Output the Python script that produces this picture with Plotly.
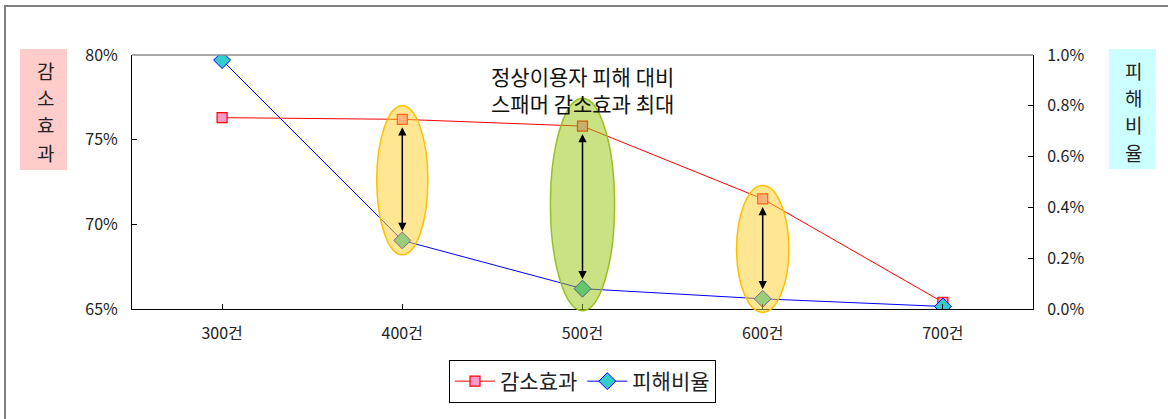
import plotly.graph_objects as go

categories = ["300건", "400건", "500건", "600건", "700건"]
reduction = [76.3, 76.2, 75.8, 71.5, 65.4]        # 감소효과 (%), left axis
damage = [0.98, 0.27, 0.08, 0.04, 0.01]           # 피해비율 (%), right axis

left_title = ["감", "소", "효", "과"]
right_title = ["피", "해", "비", "율"]

left_range = [65, 80]
right_range = [0, 1.0]

# highlighted categories: (index, half-width, top, bottom in left-axis units, kind)
highlights = [(1, 0.142, 77.0, 68.2, "y"), (2, 0.178, 77.45, 64.9, "g"), (3, 0.145, 72.3, 64.8, "y")]

FONT = "Noto Sans CJK KR, Noto Sans, DejaVu Sans, sans-serif"
PX_W, PX_H, L, T = 901, 254, 132, 55


def to_left(v):
    return left_range[0] + (v - right_range[0]) / (right_range[1] - right_range[0]) * (left_range[1] - left_range[0])


def to_paper(v):
    return (v - left_range[0]) / (left_range[1] - left_range[0])


def px_x(p):
    return (p - L) / PX_W


def px_y(p):
    return (T + PX_H - p) / PX_H


idx = list(range(len(categories)))

fig = go.Figure()
fig.add_trace(go.Scatter(
    x=idx, y=reduction, name="감소효과", mode="lines+markers",
    line=dict(color="#FF0000", width=1),
    marker=dict(symbol="square", size=10, color="#FF99CC", line=dict(color="#FF0000", width=1.2)),
    yaxis="y"))
fig.add_trace(go.Scatter(
    x=idx, y=damage, name="피해비율", mode="lines+markers",
    line=dict(color="#0000FF", width=1),
    marker=dict(symbol="diamond", size=13, color="#33CCCC", line=dict(color="#0000FF", width=1)),
    yaxis="y2"))

shapes = []
# outer frame
shapes.append(dict(type="rect", xref="paper", yref="paper", x0=px_x(5), x1=1.4,
                   y0=-1.0, y1=px_y(6), line=dict(color="#7F7F7F", width=2), layer="below"))
# plot top border
shapes.append(dict(type="line", xref="paper", yref="paper", x0=0, x1=1, y0=1, y1=1,
                   line=dict(color="#8C8C8C", width=1.5)))
# axis-title boxes
shapes.append(dict(type="rect", xref="paper", yref="paper", x0=px_x(20), x1=px_x(67),
                   y0=px_y(170), y1=px_y(49), fillcolor="#FFCCCC", line=dict(width=0), layer="below"))
shapes.append(dict(type="rect", xref="paper", yref="paper", x0=px_x(1109), x1=px_x(1156),
                   y0=px_y(169), y1=px_y(49), fillcolor="#CCFFFF", line=dict(width=0), layer="below"))
for i, hw, top, bot, kind in highlights:
    if kind == "y":
        fill, border = "rgba(255,205,40,0.5)", "#FFC000"
    else:
        fill, border = "rgba(150,195,10,0.5)", "#99C020"
    shapes.append(dict(type="circle", xref="x", yref="paper", x0=i - hw, x1=i + hw,
                       y0=to_paper(bot), y1=to_paper(top), fillcolor=fill,
                       line=dict(color=border, width=1.5), layer="above"))

annotations = []
for i, hw, top, bot, kind in highlights:
    annotations.append(dict(x=i, y=reduction[i], xref="x", yref="y", ax=i, ay=to_left(damage[i]),
                            axref="x", ayref="y", text="", showarrow=True, arrowside="end+start",
                            arrowhead=2, arrowsize=1.1, arrowwidth=1.5, arrowcolor="#000000",
                            standoff=8, startstandoff=8))
annotations.append(dict(x=2, xref="x", y=px_y(89.5), yref="paper", xanchor="center",
                        yanchor="middle",
                        text="정상이용자 피해 대비<br>스패머 감소효과 최대", showarrow=False,
                        font=dict(size=21, color="#111111", family=FONT), align="center"))
for k, ch in enumerate(left_title):
    annotations.append(dict(x=px_x(45), y=px_y(70 + 27.5 * k), xref="paper", yref="paper",
                            xanchor="center", yanchor="middle", text=ch, showarrow=False,
                            font=dict(size=19, color="#222222", family=FONT)))
for k, ch in enumerate(right_title):
    annotations.append(dict(x=px_x(1133), y=px_y(70 + 27.5 * k), xref="paper", yref="paper",
                            xanchor="center", yanchor="middle", text=ch, showarrow=False,
                            font=dict(size=19, color="#222222", family=FONT)))

fig.update_layout(
    width=1168, height=419,
    margin=dict(l=132, r=135, t=55, b=110),
    paper_bgcolor="white", plot_bgcolor="white",
    font=dict(family=FONT, size=15, color="#222222"),
    showlegend=True,
    legend=dict(orientation="h", x=0.5, xanchor="center", y=px_y(360), yanchor="top",
                bordercolor="#000000", borderwidth=1, font=dict(size=21, family=FONT),
                itemwidth=40, tracegroupgap=0),
    xaxis=dict(range=[-0.5, 4.5], tickmode="array", tickvals=idx, ticktext=categories,
               tickson="boundaries", ticks="inside", ticklen=5, tickcolor="#000000",
               showline=True, linecolor="#000000", linewidth=1, showgrid=False, zeroline=False,
               ticklabelstandoff=10, tickfont=dict(size=16)),
    yaxis=dict(range=left_range, dtick=5, ticksuffix="%", ticks="inside", ticklen=5,
               tickcolor="#000000", showline=True, linecolor="#000000", linewidth=1,
               showgrid=False, zeroline=False, ticklabelstandoff=10, tickfont=dict(size=16)),
    yaxis2=dict(range=right_range, dtick=0.2, tickformat=".1f", ticksuffix="%", overlaying="y",
                side="right", ticks="inside", ticklen=5, tickcolor="#000000", showline=True,
                linecolor="#000000", linewidth=1, showgrid=False, zeroline=False,
                ticklabelstandoff=10, tickfont=dict(size=16)),
    shapes=shapes, annotations=annotations,
)

fig.write_html("out.html")
